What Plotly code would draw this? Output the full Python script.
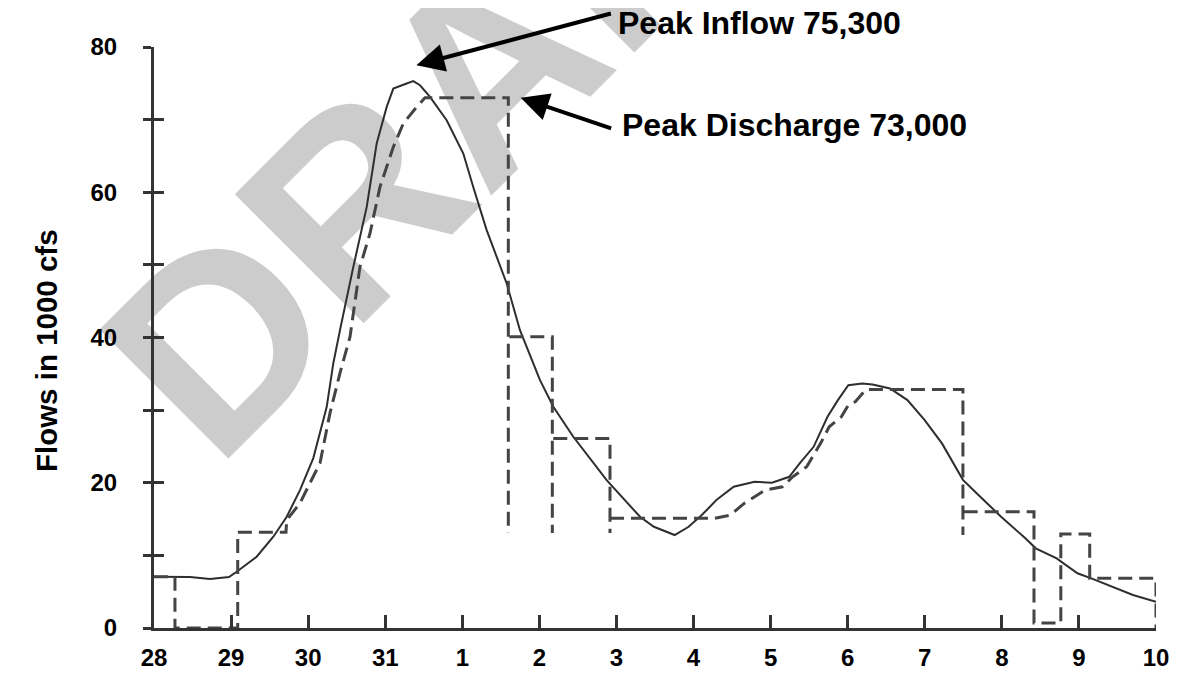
import plotly.graph_objects as go

# ---------------- data (x in days from the 28th; y in 1000 cfs) ----------------
day_labels = ["28", "29", "30", "31", "1", "2", "3", "4", "5", "6", "7", "8", "9", "10"]
day_ticks = list(range(len(day_labels)))

inflow_day = [0.0, 0.467, 0.727, 0.973, 1.073, 1.332, 1.548, 1.722, 1.894, 2.067, 2.241, 2.326,
              2.413, 2.586, 2.760, 2.889, 3.019, 3.105, 3.278, 3.364, 3.451, 3.581, 3.797, 4.013,
              4.142, 4.316, 4.576, 4.748, 5.008, 5.181, 5.440, 5.873, 6.305, 6.486, 6.755, 6.936,
              7.107, 7.297, 7.521, 7.792, 8.017, 8.242, 8.377, 8.558, 8.738, 8.873, 9.008, 9.188,
              9.323, 9.549, 9.775, 9.999, 10.223, 10.495, 10.720, 10.990, 11.305, 11.440, 11.711,
              11.981, 12.161, 12.431, 12.701, 13.0]
inflow_kcfs = [7.06, 7.02, 6.74, 7.02, 7.75, 9.81, 12.57, 15.32, 18.99, 23.4, 30.46, 36.43,
               41.01, 49.72, 57.98, 66.71, 71.75, 74.28, 74.97, 75.3, 74.73, 73.12, 69.92, 65.33,
               60.73, 54.78, 47.44, 41.01, 34.13, 30.46, 26.33, 20.37, 15.32, 13.94, 12.8, 13.94,
               15.55, 17.62, 19.45, 20.13, 20.0, 20.82, 22.67, 24.95, 29.08, 31.38, 33.44, 33.68,
               33.54, 32.99, 31.38, 28.63, 25.42, 20.4, 18.07, 15.32, 12.35, 10.97, 9.59,
               7.53, 6.84, 5.68, 4.54, 3.62]

# None = pen lifted between the separate step strokes
discharge_day = [0.0, 0.272, 0.272, 1.086, 1.086, 1.712, 1.722, 1.894, 2.024, 2.154, 2.283, 2.413,
                 2.543, 2.586, 2.672, 2.802, 2.932, 3.105, 3.234, 3.408, 3.516, 4.597, 4.597, None,
                 4.610, 5.168, 5.168, None, 5.180, 5.916, 5.916, None, 5.916, 7.274, 7.477, 7.657,
                 7.927, 8.153, 8.287, 8.468, 8.648, 8.760, 8.918, 9.008, 9.098, 9.237, 10.495,
                 10.495, None, 10.505, 11.417, 11.417, 11.765, 11.765, 12.140, 12.140, 13.0, 13.0]
discharge_kcfs = [7.06, 7.06, 0.0, 0.0, 13.2, 13.2, 14.86, 17.2, 19.96, 22.71, 29.59, 35.1,
                  40.09, 43.31, 49.72, 54.32, 60.74, 66.24, 69.46, 71.75, 73.0, 73.0, 13.07, None,
                  40.09, 40.09, 13.07, None, 26.11, 26.11, 13.07, None, 15.1, 15.1, 15.55, 17.16,
                  18.99, 19.45, 20.82, 22.2, 25.42, 27.7, 29.08, 30.69, 31.15, 32.85, 32.85,
                  12.8, None, 16.0, 16.0, 0.69, 0.69, 12.94, 12.94, 6.84, 6.84, 0.0]

y_ticks = [0, 10, 20, 30, 40, 50, 60, 70, 80]
y_labels = ["0", "", "20", "", "40", "", "60", "", "80"]

inflow_note = "Peak Inflow 75,300"
discharge_note = "Peak Discharge 73,000"
y_title = "Flows in 1000 cfs"
watermark = "DRAFT"

# ---------------- figure ----------------
FONT = "Liberation Sans, Arial, sans-serif"
AX = "#333333"

fig = go.Figure()
fig.add_trace(go.Scatter(x=inflow_day, y=inflow_kcfs, mode="lines",
                         line=dict(color="#2e2e2e", width=2), showlegend=False))
fig.add_trace(go.Scatter(x=discharge_day, y=discharge_kcfs, mode="lines",
                         line=dict(color="#444444", width=3, dash="14px,7px"), showlegend=False))
fig.add_trace(go.Scatter(x=[], y=[], yaxis="y2", showlegend=False))

# the page body adds an 8px offset; margins compensate so the plot sits where the reference has it
fig.update_layout(
    width=1184, height=675,
    margin=dict(l=146, r=36, t=39, b=55),
    paper_bgcolor="white", plot_bgcolor="white",
    xaxis=dict(range=[0, 13], tickvals=day_ticks, ticktext=day_labels, automargin=False,
               showline=True, linecolor=AX, linewidth=3, ticks="inside", ticklen=13,
               tickwidth=3, tickcolor=AX, showgrid=False, zeroline=False,
               tickfont=dict(family=FONT, size=24, color="black", weight="bold"),
               ticklabelstandoff=6),
    yaxis=dict(range=[0, 80], tickvals=y_ticks, ticktext=y_labels, automargin=False,
               showline=True, linecolor=AX, linewidth=3, ticks="outside", ticklen=8,
               tickwidth=3, tickcolor=AX, showgrid=False, zeroline=False,
               tickfont=dict(family=FONT, size=24, color="black", weight="bold"),
               ticklabelstandoff=21),
    yaxis2=dict(range=[0, 80], tickvals=y_ticks, overlaying="y", side="left", anchor="x",
                ticks="inside", ticklen=10, tickwidth=3, tickcolor=AX, automargin=False,
                showticklabels=False, showline=False, showgrid=False, zeroline=False),
)

# watermark behind the traces
fig.add_shape(type="rect", xref="paper", yref="paper", x0=0.286, x1=0.306, y0=0.949, y1=0.969,
              line=dict(width=0), fillcolor="rgba(0,0,0,0)", layer="below",
              label=dict(text=watermark, textangle=-45, textposition="middle center",
                         font=dict(family=FONT, size=265, color="#cccccc", weight="bold")))

# y title
fig.add_annotation(text=y_title, xref="paper", yref="paper", x=-0.108, y=0.478,
                   textangle=-90, showarrow=False, xanchor="center", yanchor="middle",
                   font=dict(family=FONT, size=29.5, color="black", weight="bold"))

# peak arrows (tips derived from data peaks)
pk_in = max(inflow_kcfs)
pk_in_day = inflow_day[inflow_kcfs.index(pk_in)]
pk_out = max(v for v in discharge_kcfs if v is not None)
last_pk_idx = max(i for i, v in enumerate(discharge_kcfs) if v == pk_out)
pk_out_day = discharge_day[last_pk_idx]

fig.add_annotation(x=pk_in_day + 0.04, y=pk_in + 2.2, text="", showarrow=True,
                   ax=196, ay=-52, arrowhead=2, arrowsize=1.4, arrowwidth=4, arrowcolor="black")
fig.add_annotation(x=pk_out_day + 0.16, y=pk_out, text="", showarrow=True,
                   ax=92, ay=31, arrowhead=2, arrowsize=1.4, arrowwidth=4, arrowcolor="black")

fig.add_annotation(text=inflow_note, xref="paper", yref="paper", x=0.462, y=1.041,
                   xanchor="left", yanchor="middle", showarrow=False, borderpad=0,
                   font=dict(family=FONT, size=32, color="black", weight="bold"))
fig.add_annotation(text=discharge_note, xref="paper", yref="paper", x=0.466, y=0.866,
                   xanchor="left", yanchor="middle", showarrow=False, borderpad=0,
                   font=dict(family=FONT, size=32, color="black", weight="bold"))

fig.write_html("out.html")
